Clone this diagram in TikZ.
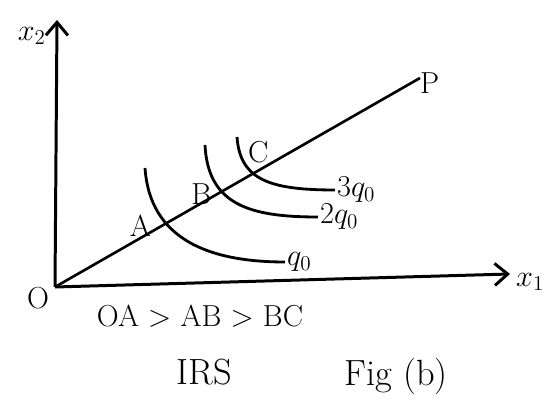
\documentclass[tikz,border=0pt]{standalone}
\usetikzlibrary{arrows.meta,positioning}
\begin{document}
\begin{tikzpicture}[x=0.2mm, y=-0.2mm,
    axis/.style={line width=1.7pt, -{Straight Barb[length=2.6mm, width=4.4mm]}},
    ray/.style={line width=1.5pt},
    iso/.style={line width=1.6pt},
    lbl/.style={font=\LARGE, inner sep=1pt},
    note/.style={font=\huge, inner sep=1pt}
  ]
  \useasboundingbox (0,0) rectangle (547,405);

  % axes
  \coordinate (O) at (55,287);
  \coordinate (ytop) at (57,20);
  \coordinate (xend) at (510,274);
  \draw[axis] (O) -- (ytop);
  \draw[axis] (O) -- (xend);
  \node[lbl, anchor=east] (ylab) at (48,36) {$x_2$};
  \node[lbl, anchor=west] (xlab) at (514,282) {$x_1$};
  \node[lbl] (olab) at (38,298) {O};

  % scale line
  \coordinate (P) at (420,78);
  \draw[ray] (O) -- (P);
  \node[lbl, anchor=south west] (plab) at (418,96) {P};

  % points on the ray
  \coordinate (A) at (160,226);
  \coordinate (B) at (215,194);
  \coordinate (C) at (246,176);

  % isoquants
  \draw[iso] (145,168) .. controls (150,240) and (210,262) .. (285,262) coordinate (q1);
  \draw[iso] (205,145) .. controls (208,205) and (250,217) .. (318,217) coordinate (q2);
  \draw[iso] (237,137) .. controls (240,180) and (270,190) .. (335,190) coordinate (q3);
  \node[lbl, anchor=west] (q1lab) at (q1) {$q_0$};
  \node[lbl, anchor=west] (q2lab) at (q2) {$2q_0$};
  \node[lbl, anchor=west] (q3lab) at (q3) {$3q_0$};

  \node[lbl, left=4pt of A] (alab) {A};
  \node[lbl, left=1pt of B] (blab) {B};
  \node[lbl, above right=6pt and 0pt of C] (clab) {C};

  % notes
  \node[lbl] (order) at (200,316) {OA $>$ AB $>$ BC};
  \node[note] (irs) at (204,372) {IRS};
  \node[note] (fig) at (396,376) {Fig (b)};
\end{tikzpicture}
\end{document}
